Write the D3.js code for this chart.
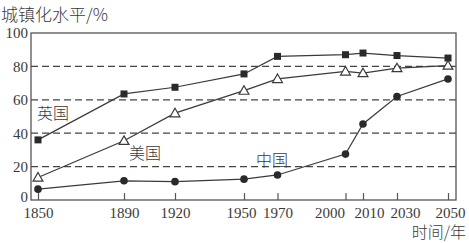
<!DOCTYPE html>
<html>
<head>
<meta charset="utf-8">
<script src="https://cdn.jsdelivr.net/npm/d3@7"></script>
<style>
  body { margin: 0; background: #fff; }
  text { font-family: "Liberation Serif", "DejaVu Serif", serif; fill: #3a3a3a; }
  .cjk { font-family: "Noto Sans CJK SC", sans-serif; font-weight: 300; }
</style>
</head>
<body>
<svg id="chart" width="469" height="243"></svg>
<script>
// Data
const years = [1850, 1890, 1920, 1950, 1970, 2000, 2010, 2030, 2050];
const uk = [36, 63.5, 67.5, 75.5, 86, 87, 88, 86.5, 85];
const usa = [13.5, 35.5, 52, 65.5, 72.5, 77, 76, 79, 80.5];
const china = [6.5, 11.5, 11, 12.5, 15, 27.5, 45.5, 62, 72.5];
const yTicks = [0, 20, 40, 60, 80, 100];
const gridTicks = [20, 40, 60, 80];

const svg = d3.select('#chart');
const plotLeft = 31, plotRight = 456, plotTop = 33, plotBottom = 200;
const ink = '#3a3a3a';

// Uneven year spacing as drawn in the figure (piecewise scale)
const x = d3.scaleLinear()
  .domain(years)
  .range([38, 124, 175, 244, 277.5, 345.5, 363, 397, 448]);
const y = d3.scaleLinear().domain([0, 100]).range([plotBottom, plotTop]);

// Dashed grid
svg.append('g')
  .selectAll('line')
  .data(gridTicks)
  .join('line')
  .attr('x1', plotLeft).attr('x2', plotRight)
  .attr('y1', d => y(d)).attr('y2', d => y(d))
  .attr('stroke', '#444')
  .attr('stroke-width', 1.2)
  .attr('stroke-dasharray', '7,4');

// Frame
svg.append('rect')
  .attr('x', plotLeft).attr('y', plotTop)
  .attr('width', plotRight - plotLeft).attr('height', plotBottom - plotTop)
  .attr('fill', 'none')
  .attr('stroke', '#555')
  .attr('stroke-width', 1.3);

// Y axis labels
const yAxis = d3.axisLeft(y).tickValues(yTicks).tickSize(0).tickPadding(3);
const yg = svg.append('g').attr('transform', `translate(${plotLeft},0)`).call(yAxis);
yg.select('.domain').remove();
yg.selectAll('text')
  .style('font-family', '"Liberation Serif", serif')
  .style('font-size', '15px')
  .attr('fill', ink)
  .attr('y', d => (d === 0 ? -3 : 0));

// X axis with inward ticks
const xAxis = d3.axisBottom(x).tickValues(years).tickSize(-7).tickPadding(7).tickFormat(d3.format('d'));
const xg = svg.append('g').attr('transform', `translate(0,${plotBottom})`).call(xAxis);
xg.select('.domain').remove();
xg.selectAll('line').attr('stroke', '#555').attr('stroke-width', 1.2);
const labelShift = { 2000: -16, 2010: 6, 2030: 8, 2050: 2, 1950: -3 };
xg.selectAll('text')
  .style('font-family', '"Liberation Serif", serif')
  .style('font-size', '15px')
  .attr('fill', ink)
  .attr('dx', d => labelShift[d] || 0);

// Lines
const line = d3.line().x((d, i) => x(years[i])).y(d => y(d));
[uk, usa, china].forEach(s => {
  svg.append('path')
    .datum(s)
    .attr('d', line)
    .attr('fill', 'none')
    .attr('stroke', ink)
    .attr('stroke-width', 1.2);
});

// Markers
svg.append('g').selectAll('rect')
  .data(uk)
  .join('rect')
  .attr('x', (d, i) => x(years[i]) - 3.5)
  .attr('y', d => y(d) - 3.5)
  .attr('width', 7).attr('height', 7)
  .attr('fill', '#2a2a2a');

const tri = d3.symbol().type(d3.symbolTriangle).size(42);
svg.append('g').selectAll('path')
  .data(usa)
  .join('path')
  .attr('d', tri)
  .attr('transform', (d, i) => `translate(${x(years[i])},${y(d) + 0.8})`)
  .attr('fill', '#fff')
  .attr('stroke', ink)
  .attr('stroke-width', 1.2);

svg.append('g').selectAll('circle')
  .data(china)
  .join('circle')
  .attr('cx', (d, i) => x(years[i]))
  .attr('cy', d => y(d))
  .attr('r', 3.8)
  .attr('fill', '#2a2a2a');

// Series labels
const seriesLabels = [
  { text: '英国', x: 37, y: 119 },
  { text: '美国', x: 129, y: 159 },
  { text: '中国', x: 256, y: 166 }
];
svg.append('g').selectAll('text')
  .data(seriesLabels)
  .join('text')
  .attr('class', 'cjk')
  .attr('x', d => d.x).attr('y', d => d.y)
  .style('font-size', '16px')
  .text(d => d.text);

// Axis titles
svg.append('text')
  .attr('class', 'cjk')
  .attr('x', 1).attr('y', 21)
  .style('font-size', '17px')
  .text('城镇化水平/%');

svg.append('text')
  .attr('class', 'cjk')
  .attr('x', 466).attr('y', 238)
  .attr('text-anchor', 'end')
  .style('font-size', '16px')
  .text('时间/年');
</script>
</body>
</html>
